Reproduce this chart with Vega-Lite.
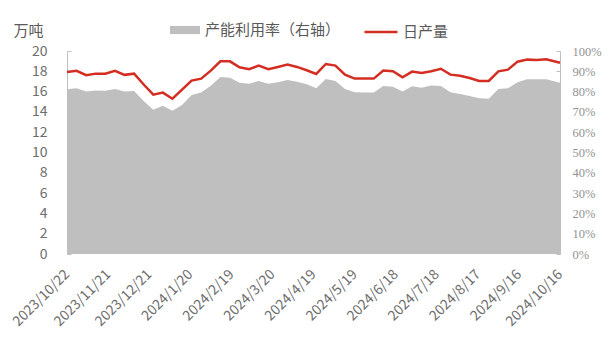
{
  "$schema": "https://vega.github.io/schema/vega-lite/v6.json",
  "width": 493,
  "height": 203,
  "autosize": {"type": "none"},
  "padding": {"left": 67, "top": 51, "right": 51, "bottom": 101},
  "background": "white",
  "config": {"view": {"stroke": null}, "font": "Noto Sans CJK SC"},
  "data": {
    "values": [
      {"date": "2023-10-22", "output": 17.94, "util": 81.1},
      {"date": "2023-10-29", "output": 18.05, "util": 81.6},
      {"date": "2023-11-05", "output": 17.62, "util": 80.0},
      {"date": "2023-11-12", "output": 17.77, "util": 80.6},
      {"date": "2023-11-19", "output": 17.77, "util": 80.4},
      {"date": "2023-11-26", "output": 18.05, "util": 81.3},
      {"date": "2023-12-03", "output": 17.65, "util": 80.0},
      {"date": "2023-12-10", "output": 17.77, "util": 80.3},
      {"date": "2023-12-17", "output": 16.7, "util": 75.4},
      {"date": "2023-12-24", "output": 15.7, "util": 71.0},
      {"date": "2023-12-31", "output": 15.9, "util": 73.0},
      {"date": "2024-01-07", "output": 15.3, "util": 70.6},
      {"date": "2024-01-14", "output": 16.2, "util": 73.4},
      {"date": "2024-01-21", "output": 17.08, "util": 78.3},
      {"date": "2024-01-28", "output": 17.28, "util": 79.5},
      {"date": "2024-02-04", "output": 18.07, "util": 82.9},
      {"date": "2024-02-11", "output": 18.98, "util": 87.2},
      {"date": "2024-02-18", "output": 18.98, "util": 86.8},
      {"date": "2024-02-25", "output": 18.39, "util": 84.4},
      {"date": "2024-03-03", "output": 18.2, "util": 83.9},
      {"date": "2024-03-10", "output": 18.56, "util": 85.2},
      {"date": "2024-03-17", "output": 18.2, "util": 83.9},
      {"date": "2024-03-24", "output": 18.43, "util": 84.6},
      {"date": "2024-03-31", "output": 18.66, "util": 85.7},
      {"date": "2024-04-07", "output": 18.43, "util": 84.9},
      {"date": "2024-04-14", "output": 18.1, "util": 83.6},
      {"date": "2024-04-21", "output": 17.74, "util": 81.6},
      {"date": "2024-04-28", "output": 18.72, "util": 86.2},
      {"date": "2024-05-05", "output": 18.56, "util": 85.2},
      {"date": "2024-05-12", "output": 17.67, "util": 81.3},
      {"date": "2024-05-19", "output": 17.28, "util": 79.7},
      {"date": "2024-05-26", "output": 17.28, "util": 79.5},
      {"date": "2024-06-02", "output": 17.28, "util": 79.5},
      {"date": "2024-06-09", "output": 18.07, "util": 82.8},
      {"date": "2024-06-16", "output": 18.0, "util": 82.4},
      {"date": "2024-06-23", "output": 17.41, "util": 80.1},
      {"date": "2024-06-30", "output": 17.97, "util": 82.6},
      {"date": "2024-07-07", "output": 17.84, "util": 81.9},
      {"date": "2024-07-14", "output": 18.0, "util": 83.0},
      {"date": "2024-07-21", "output": 18.25, "util": 82.8},
      {"date": "2024-07-28", "output": 17.67, "util": 79.7},
      {"date": "2024-08-04", "output": 17.57, "util": 78.8},
      {"date": "2024-08-11", "output": 17.34, "util": 77.8},
      {"date": "2024-08-18", "output": 17.05, "util": 76.7},
      {"date": "2024-08-25", "output": 17.05, "util": 76.5},
      {"date": "2024-09-01", "output": 18.0, "util": 81.3},
      {"date": "2024-09-08", "output": 18.16, "util": 81.6},
      {"date": "2024-09-15", "output": 18.95, "util": 84.6},
      {"date": "2024-09-22", "output": 19.15, "util": 86.1},
      {"date": "2024-09-29", "output": 19.12, "util": 86.1},
      {"date": "2024-10-06", "output": 19.18, "util": 86.1},
      {"date": "2024-10-16", "output": 18.85, "util": 84.4}
    ]
  },
  "encoding": {
    "x": {
      "field": "date",
      "type": "temporal",
      "scale": {
        "type": "utc",
        "domain": [
          {"year": 2023, "month": 10, "date": 22, "utc": true},
          {"year": 2024, "month": 10, "date": 16, "utc": true}
        ]
      },
      "axis": {
        "title": null,
        "values": [
          {"year": 2023, "month": 10, "date": 22, "utc": true},
          {"year": 2023, "month": 11, "date": 21, "utc": true},
          {"year": 2023, "month": 12, "date": 21, "utc": true},
          {"year": 2024, "month": 1, "date": 20, "utc": true},
          {"year": 2024, "month": 2, "date": 19, "utc": true},
          {"year": 2024, "month": 3, "date": 20, "utc": true},
          {"year": 2024, "month": 4, "date": 19, "utc": true},
          {"year": 2024, "month": 5, "date": 19, "utc": true},
          {"year": 2024, "month": 6, "date": 18, "utc": true},
          {"year": 2024, "month": 7, "date": 18, "utc": true},
          {"year": 2024, "month": 8, "date": 17, "utc": true},
          {"year": 2024, "month": 9, "date": 16, "utc": true},
          {"year": 2024, "month": 10, "date": 16, "utc": true}
        ],
        "labelExpr": "utcFormat(datum.value, '%Y/%-m/%-d')",
        "labelAngle": -45,
        "labelAlign": "right",
        "labelBaseline": "middle",
        "labelPadding": 18,
        "labelFont": "Noto Sans CJK SC",
        "labelFontSize": 14,
        "labelColor": "#6E6E6E",
        "labelOverlap": false,
        "labelFlush": false,
        "ticks": false,
        "domain": false,
        "grid": false
      }
    }
  },
  "layer": [
    {
      "mark": {"type": "area", "opacity": 1},
      "encoding": {
        "y": {
          "field": "util",
          "type": "quantitative",
          "scale": {"domain": [0, 100], "nice": false},
          "axis": {
            "orient": "right",
            "title": null,
            "values": [0, 10, 20, 30, 40, 50, 60, 70, 80, 90, 100],
            "labelExpr": "datum.value + '%'",
            "labelFont": "Liberation Serif",
            "labelFontSize": 12.5,
            "labelColor": "#939393",
            "labelPadding": 16,
            "tickSize": -4,
            "tickColor": "#BFBFBF",
            "domainColor": "#BFBFBF",
            "grid": false
          }
        },
        "fill": {
          "datum": "产能利用率（右轴）",
          "scale": {"range": ["#BFBFBF"]},
          "legend": {
            "orient": "none",
            "legendX": 103,
            "legendY": -36,
            "title": null,
            "symbolType": "M-1,-0.27H1V0.27H-1Z",
            "symbolSize": 900,
            "symbolStrokeWidth": 0,
            "labelFont": "Noto Sans CJK SC",
            "labelFontSize": 15,
            "labelColor": "#595959",
            "labelOffset": 5
          }
        }
      }
    },
    {
      "mark": {"type": "line", "strokeWidth": 2.5},
      "encoding": {
        "y": {
          "field": "output",
          "type": "quantitative",
          "scale": {"domain": [0, 20], "nice": false},
          "axis": {
            "orient": "left",
            "title": "万吨",
            "titleAngle": 0,
            "titleX": -54,
            "titleY": -21,
            "titleAlign": "left",
            "titleBaseline": "middle",
            "titleFont": "Noto Sans CJK SC",
            "titleFontSize": 15,
            "titleFontWeight": "normal",
            "titleColor": "#595959",
            "values": [0, 2, 4, 6, 8, 10, 12, 14, 16, 18, 20],
            "labelFont": "Noto Sans CJK SC",
            "labelFontSize": 14,
            "labelColor": "#6E6E6E",
            "labelPadding": 24,
            "tickSize": -4,
            "tickColor": "#BFBFBF",
            "domainColor": "#BFBFBF",
            "grid": false
          }
        },
        "stroke": {
          "datum": "日产量",
          "scale": {"range": ["#D42D22"]},
          "legend": {
            "orient": "none",
            "legendX": 296,
            "legendY": -37,
            "title": null,
            "symbolType": "stroke",
            "symbolSize": 1089,
            "symbolStrokeWidth": 2.5,
            "labelFont": "Noto Sans CJK SC",
            "labelFontSize": 15,
            "labelColor": "#595959",
            "labelOffset": 4
          }
        }
      }
    }
  ],
  "resolve": {"scale": {"y": "independent"}}
}
